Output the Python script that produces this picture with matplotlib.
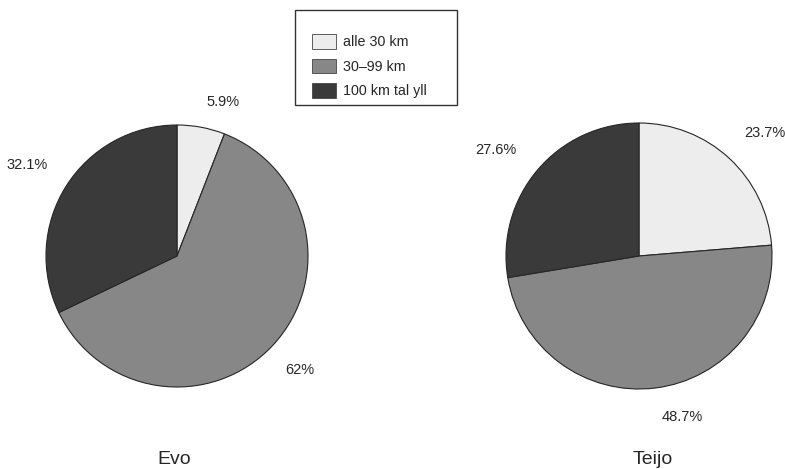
import numpy as np
import matplotlib.pyplot as plt
from matplotlib.patches import Patch, Rectangle

plt.rcParams['font.family'] = ['Liberation Sans', 'DejaVu Sans']

categories = ['alle 30 km', '30\u201399 km', '100 km tal yll']
evo = [5.9, 62, 32.1]
teijo = [23.7, 48.7, 27.6]
evo_labels = ['5.9%', '62%', '32.1%']
teijo_labels = ['23.7%', '48.7%', '27.6%']

colors = ['#ededed', '#878787', '#3a3a3a']
W, H = 785, 469

fig = plt.figure(figsize=(W / 100, H / 100), dpi=100)


def draw(cx, cy, r, values, labels, name, tx, place):
    ax = fig.add_axes([(cx - r) / W, (H - cy - r) / H, 2 * r / W, 2 * r / H])
    wedges, _ = ax.pie(values, colors=colors, startangle=90, counterclock=False,
                       wedgeprops=dict(edgecolor='#262626', linewidth=0.8))
    ax.set_xlim(-1, 1)
    ax.set_ylim(-1, 1)
    ax.set_aspect('equal')
    # label distance and angle shift from the wedge middle
    for w, lab, (d, shift) in zip(wedges, labels, place):
        a = np.deg2rad((w.theta1 + w.theta2) / 2 + shift)
        ax.text(d * np.cos(a), d * np.sin(a), lab, ha='center', va='center',
                fontsize=10.5, color='#262626', clip_on=False)
    fig.text(tx / W, 1 - 459 / H, name, ha='center', va='center', fontsize=14, color='#262626')


draw(177, 256, 131, evo, evo_labels, 'Evo', 174, [(1.23, -6), (1.275, 0), (1.336, 1)])
draw(639, 256, 133, teijo, teijo_labels, 'Teijo', 653, [(1.32, -3), (1.25, 8), (1.34, 4)])

# legend box drawn separately, entries placed inside it
fig.patches.append(Rectangle((295 / W, 1 - 105 / H), 162 / W, 95 / H, transform=fig.transFigure,
                             facecolor='white', edgecolor='#333333', linewidth=1.0, zorder=0))
handles = [Patch(facecolor=c, edgecolor='#444444', linewidth=0.6) for c in colors]
leg = fig.legend(handles, categories, loc='upper left', bbox_to_anchor=(312 / W, 1 - 34 / H),
                 borderaxespad=0, borderpad=0, frameon=False, fontsize=10.3,
                 handlelength=1.7, handleheight=1.2, labelspacing=0.66, handletextpad=0.5)
for t in leg.get_texts():
    t.set_color('#262626')

fig.savefig('out.png', dpi=100)
